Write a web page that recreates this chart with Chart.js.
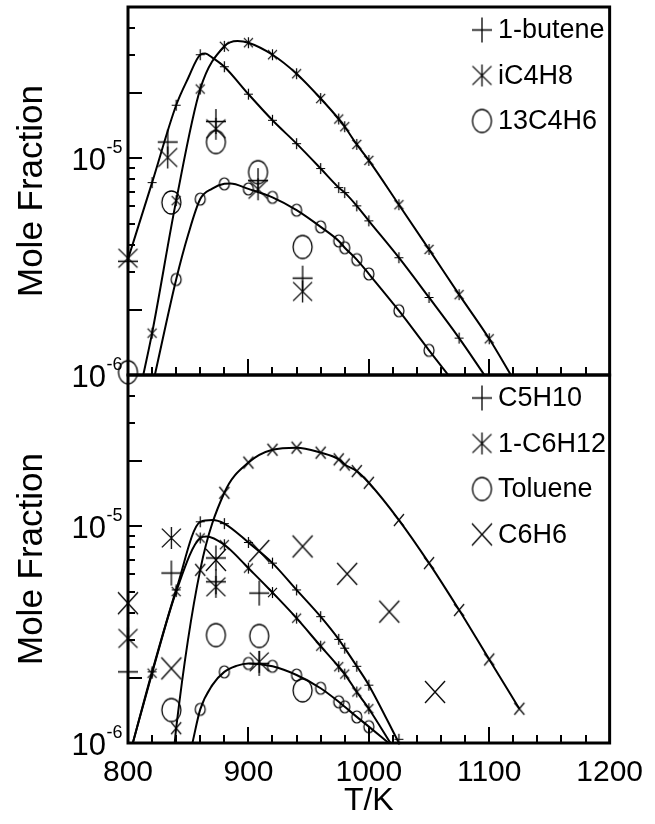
<!DOCTYPE html>
<html>
<head>
<meta charset="utf-8">
<script src="https://cdn.jsdelivr.net/npm/chart.js@4.4.0/dist/chart.umd.min.js"></script>
<style>
html,body{margin:0;padding:0;background:#fff;}
#wrap{position:relative;width:655px;height:824px;}
</style>
</head>
<body>
<div id="wrap"><canvas id="c" width="655" height="824"></canvas></div>
<script>
// ---------- values (mole fraction in units of 1e-6) ----------
const UNIT = 1e-6;
const xTickLabels = [800, 900, 1000, 1100, 1200];
const yLabelValues = [1e-6, 1e-5];
const yLabelExps = ['-6', '-5'];

// Top panel: model curves
const butLineT = [800, 820, 840, 850, 860, 864, 870, 880, 900, 920, 940, 960, 975, 980, 990, 1000, 1025, 1050, 1075, 1096];
const butLineV = [3.43, 7.73, 17.6, 23.5, 30.1, 30.5, 29.2, 26.5, 19.8, 15.0, 11.7, 8.98, 7.33, 6.95, 6.04, 5.15, 3.48, 2.28, 1.48, 1.0];
const iC4LineT = [812.7, 820, 840, 860, 880, 891, 900, 920, 940, 960, 975, 980, 990, 1000, 1025, 1050, 1075, 1100, 1118];
const iC4LineV = [1.0, 1.56, 6.38, 20.9, 32.9, 34.8, 34.2, 30.1, 24.6, 18.9, 15.2, 14.0, 11.6, 9.79, 6.11, 3.80, 2.35, 1.47, 1.0];
const c4h6LineT = [822.3, 840, 850, 860, 870, 880, 885, 900, 920, 940, 960, 975, 980, 990, 1000, 1025, 1050, 1066];
const c4h6LineV = [1.0, 2.76, 4.45, 6.49, 7.25, 7.63, 7.66, 7.23, 6.61, 5.77, 4.83, 4.16, 3.87, 3.41, 2.93, 1.98, 1.30, 1.0];
// Top panel: small symbols on curves
const butSymT = [820, 840, 860, 880, 900, 920, 940, 960, 975, 980, 990, 1000, 1025, 1050, 1075];
const butSymV = [7.73, 17.6, 30.1, 26.5, 19.8, 15.0, 11.7, 8.98, 7.33, 6.95, 6.04, 5.15, 3.48, 2.28, 1.48];
const iC4SymT = [820, 840, 860, 880, 900, 920, 940, 960, 975, 980, 990, 1000, 1025, 1050, 1075, 1100];
const iC4SymV = [1.56, 6.38, 20.9, 32.9, 34.2, 30.1, 24.6, 18.9, 15.2, 14.0, 11.6, 9.79, 6.11, 3.80, 2.35, 1.47];
const c4h6SymT = [840, 860, 880, 900, 920, 940, 960, 975, 980, 990, 1000, 1025, 1050];
const c4h6SymV = [2.76, 6.49, 7.63, 7.23, 6.61, 5.77, 4.83, 4.16, 3.87, 3.41, 2.93, 1.98, 1.30];
// Top panel: experiments
const butExpT = [800, 833, 873, 908, 945];
const butExpV = [3.35, 11.9, 14.8, 7.9, 2.8];
const iC4ExpT = [800, 833, 873, 908, 945];
const iC4ExpV = [3.46, 10.1, 13.7, 7.2, 2.43];
const c4h6ExpT = [800, 836, 873, 908, 945];
const c4h6ExpV = [1.03, 6.26, 11.9, 8.64, 3.9];

// Bottom panel: model curves
const c5LineT = [804, 820, 840, 860, 870, 880, 900, 920, 940, 960, 975, 980, 990, 1000, 1025];
const c5LineV = [1.0, 2.13, 5.09, 10.5, 10.7, 10.3, 8.43, 6.77, 5.09, 3.83, 3.01, 2.74, 2.26, 1.85, 1.0];
const c6LineT = [804, 820, 840, 860, 865, 880, 900, 920, 940, 960, 975, 980, 990, 1000, 1018];
const c6LineV = [1.0, 2.10, 5.0, 8.84, 8.99, 8.23, 6.42, 4.95, 3.77, 2.80, 2.25, 2.08, 1.72, 1.44, 1.0];
const tolLineT = [853.5, 860, 870, 880, 890, 900, 920, 940, 960, 975, 980, 990, 1000, 1016.5];
const tolLineV = [1.0, 1.43, 1.85, 2.13, 2.27, 2.33, 2.26, 2.06, 1.79, 1.55, 1.47, 1.32, 1.19, 1.0];
const bzLineT = [838.8, 840, 860, 880, 900, 920, 940, 960, 975, 980, 990, 1000, 1025, 1050, 1075, 1100, 1125];
const bzLineV = [1.0, 1.17, 6.3, 14.3, 19.7, 22.6, 23.1, 21.9, 20.4, 19.3, 18.0, 15.9, 10.7, 6.77, 4.11, 2.43, 1.44];
// Bottom panel: small symbols on curves
const c5SymT = [820, 840, 860, 880, 900, 920, 940, 960, 975, 980, 990, 1000, 1025];
const c5SymV = [2.13, 5.09, 10.5, 10.3, 8.43, 6.77, 5.09, 3.83, 3.01, 2.74, 2.26, 1.85, 1.04];
const c6SymT = [820, 840, 860, 880, 900, 920, 940, 960, 975, 980, 990, 1000];
const c6SymV = [2.10, 5.0, 8.84, 8.23, 6.42, 4.95, 3.77, 2.80, 2.25, 2.08, 1.72, 1.44];
const tolSymT = [860, 880, 900, 920, 940, 960, 975, 980, 990, 1000];
const tolSymV = [1.43, 2.13, 2.33, 2.26, 2.06, 1.79, 1.55, 1.47, 1.32, 1.19];
const bzSymT = [840, 860, 880, 900, 920, 940, 960, 975, 980, 990, 1000, 1025, 1050, 1075, 1100, 1125];
const bzSymV = [1.17, 6.3, 14.3, 19.7, 22.6, 23.1, 21.9, 20.4, 19.3, 18.0, 15.9, 10.7, 6.77, 4.11, 2.43, 1.44];
// Bottom panel: experiments
const c5ExpT = [800, 836, 873, 873, 909, 909];
const c5ExpV = [2.13, 6.09, 7.15, 5.55, 4.92, 2.33];
const c6ExpT = [800, 836, 873, 909];
const c6ExpV = [3.04, 8.84, 5.26, 2.37];
const tolExpT = [836, 873, 909, 945];
const tolExpV = [1.42, 3.15, 3.12, 1.75];
const bzExpT = [800, 836, 873, 909, 945, 982, 1017, 1055];
const bzExpV = [4.42, 2.21, 7.0, 7.7, 8.08, 6.04, 4.04, 1.72];

const topLegend = ['1-butene', 'iC4H8', '13C4H6'];
const botLegend = ['C5H10', '1-C6H12', 'Toluene', 'C6H6'];

// ---------- marker glyphs ----------
function mk(kind, w, h, lw) {
  const pad = 2;
  const c = document.createElement('canvas');
  c.width = Math.round(w + 2 * pad); c.height = Math.round(h + 2 * pad);
  const g = c.getContext('2d');
  g.strokeStyle = '#000'; g.lineWidth = lw;
  const cx = c.width / 2, cy = c.height / 2, rx = w / 2, ry = h / 2;
  g.beginPath();
  if (kind === 'plus' || kind === 'star') { g.moveTo(cx, cy - ry); g.lineTo(cx, cy + ry); }
  if (kind === 'plus') { g.moveTo(cx - rx, cy); g.lineTo(cx + rx, cy); }
  if (kind === 'star') { const a = 0.85; g.moveTo(cx - rx, cy - ry * a); g.lineTo(cx + rx, cy + ry * a); g.moveTo(cx + rx, cy - ry * a); g.lineTo(cx - rx, cy + ry * a); }
  if (kind === 'cross') { g.moveTo(cx - rx, cy - ry); g.lineTo(cx + rx, cy + ry); g.moveTo(cx + rx, cy - ry); g.lineTo(cx - rx, cy + ry); }
  if (kind === 'circle') { g.ellipse(cx, cy, rx, ry, 0, 0, Math.PI * 2); }
  g.stroke();
  return c;
}
const BIG = {plus: mk('plus', 20, 25, 1.3), star: mk('star', 19, 22, 1.3), circle: mk('circle', 19, 23, 1.3), cross: mk('cross', 20, 22, 1.3)};
const SMALL = {plus: mk('plus', 9, 11, 1.2), star: mk('star', 9, 11, 1.2), circle: mk('circle', 10, 12, 1.2), cross: mk('cross', 10, 12, 1.2)};

const pts = (T, V) => T.map((t, i) => ({x: t, y: V[i] * UNIT}));
function lineDS(T, V, axis) {
  return {type: 'line', data: pts(T, V), yAxisID: axis, borderColor: '#000', borderWidth: 2,
    pointRadius: 0, cubicInterpolationMode: 'monotone', fill: false, order: 2};
}
function symDS(T, V, axis, img) {
  return {type: 'line', data: pts(T, V), yAxisID: axis, showLine: false, pointStyle: img,
    pointRadius: 4, borderColor: '#000', clip: false, order: 1};
}

const datasets = [
  lineDS(butLineT, butLineV, 'yTop'), lineDS(iC4LineT, iC4LineV, 'yTop'), lineDS(c4h6LineT, c4h6LineV, 'yTop'),
  symDS(butSymT, butSymV, 'yTop', SMALL.plus), symDS(iC4SymT, iC4SymV, 'yTop', SMALL.star), symDS(c4h6SymT, c4h6SymV, 'yTop', SMALL.circle),
  symDS(butExpT, butExpV, 'yTop', BIG.plus), symDS(iC4ExpT, iC4ExpV, 'yTop', BIG.star), symDS(c4h6ExpT, c4h6ExpV, 'yTop', BIG.circle),
  lineDS(c5LineT, c5LineV, 'yBot'), lineDS(c6LineT, c6LineV, 'yBot'), lineDS(tolLineT, tolLineV, 'yBot'), lineDS(bzLineT, bzLineV, 'yBot'),
  symDS(c5SymT, c5SymV, 'yBot', SMALL.plus), symDS(c6SymT, c6SymV, 'yBot', SMALL.star), symDS(tolSymT, tolSymV, 'yBot', SMALL.circle), symDS(bzSymT, bzSymV, 'yBot', SMALL.cross),
  symDS(c5ExpT, c5ExpV, 'yBot', BIG.plus), symDS(c6ExpT, c6ExpV, 'yBot', BIG.star), symDS(tolExpT, tolExpV, 'yBot', BIG.circle), symDS(bzExpT, bzExpV, 'yBot', BIG.cross)
];

const FONT = "'Liberation Sans', Arial, Helvetica, sans-serif";

const panelPlugin = {
  id: 'panels',
  beforeDatasetsDraw(chart) {
    const ctx = chart.ctx, xs = chart.scales.x;
    const L = chart.chartArea.left, R = chart.chartArea.right;
    ctx.save();
    ctx.strokeStyle = '#000';
    ctx.fillStyle = '#000';
    for (const id of ['yTop', 'yBot']) {
      const ys = chart.scales[id];
      ctx.lineWidth = 2;
      ctx.beginPath();
      // y ticks: decades and 2x long, others short
      for (const d of yLabelValues.concat([1e-4])) {
        for (let m = 1; m <= 9; m++) {
          const v = d / 10 * m * 10 / 10 * 1; // d * m / 1
          const val = d * m;
          if (val < ys.min * 0.999 || val > ys.max * 1.001) continue;
          const p = Math.round(ys.getPixelForValue(val)) + 0.0;
          const len = (m === 1 || m === 2) ? 14 : 7;
          ctx.moveTo(L, p); ctx.lineTo(L + len, p);
        }
      }
      // x ticks on the bottom of each panel
      for (let t = xTickLabels[0]; t <= xTickLabels[xTickLabels.length - 1]; t += 20) {
        const px = Math.round(xs.getPixelForValue(t));
        const len = (t % 100 === 0) ? 16 : 8;
        ctx.moveTo(px, ys.bottom); ctx.lineTo(px, ys.bottom - len);
      }
      ctx.stroke();
      // frame
      ctx.lineWidth = 3;
      ctx.strokeRect(L, ys.top, R - L, ys.bottom - ys.top);
      // y tick labels 10^n
      yLabelValues.forEach((v, i) => {
        const p = ys.getPixelForValue(v);
        ctx.textBaseline = 'alphabetic';
        ctx.textAlign = 'right';
        ctx.font = '31px ' + FONT;
        ctx.fillText('10', 106, p + 12);
        ctx.textAlign = 'left';
        ctx.font = '18px ' + FONT;
        ctx.fillText(yLabelExps[i], 106.5, p - 5);
      });
    }
    ctx.restore();
  },
  afterDatasetsDraw(chart) {
    const ctx = chart.ctx;
    ctx.save();
    ctx.fillStyle = '#000';
    ctx.font = '27px ' + FONT;
    ctx.textBaseline = 'middle';
    ctx.textAlign = 'left';
    const draw = (labels, imgs, ys) => {
      labels.forEach((lab, i) => {
        const y = ys.top + 23 + i * 45.5;
        const img = imgs[i];
        ctx.drawImage(img, 482 - img.width / 2, y - img.height / 2);
        ctx.fillText(lab, 498, y + 1);
      });
    };
    draw(topLegend, [BIG.plus, BIG.star, BIG.circle], chart.scales.yTop);
    draw(botLegend, [BIG.plus, BIG.star, BIG.circle, BIG.cross], chart.scales.yBot);
    ctx.restore();
  }
};

const yCommon = (weight) => ({
  type: 'logarithmic', position: 'left', stack: 'panels', stackWeight: 1, weight: weight,
  min: 1e-6, max: 5e-5,
  grid: {display: false, drawTicks: false}, border: {display: false},
  ticks: {display: false},
  title: {display: true, text: 'Mole Fraction', color: '#000', font: {size: 35, family: FONT}, padding: {top: 11, bottom: 0}},
  afterFit: (s) => { s.width = 128; }
});

new Chart(document.getElementById('c'), {
  type: 'line',
  data: {datasets},
  options: {
    responsive: false, animation: false, events: [],
    layout: {padding: {top: 7, right: 43, left: 0, bottom: 0}},
    plugins: {legend: {display: false}, tooltip: {enabled: false}},
    scales: {
      x: {type: 'linear', position: 'bottom', min: 800, max: 1200,
        grid: {display: false, drawTicks: false}, border: {display: false},
        ticks: {stepSize: 100, color: '#000', font: {size: 30, family: FONT}, padding: 12,
          callback: (v) => xTickLabels.includes(v) ? String(v) : ''},
        title: {display: true, text: 'T/K', color: '#000', font: {size: 32, family: FONT}, padding: {top: 0, bottom: 4}},
        afterFit: (s) => { s.height = 81; }
      },
      yTop: yCommon(1),
      yBot: yCommon(0)
    }
  },
  plugins: [panelPlugin]
});
</script>
</body>
</html>
